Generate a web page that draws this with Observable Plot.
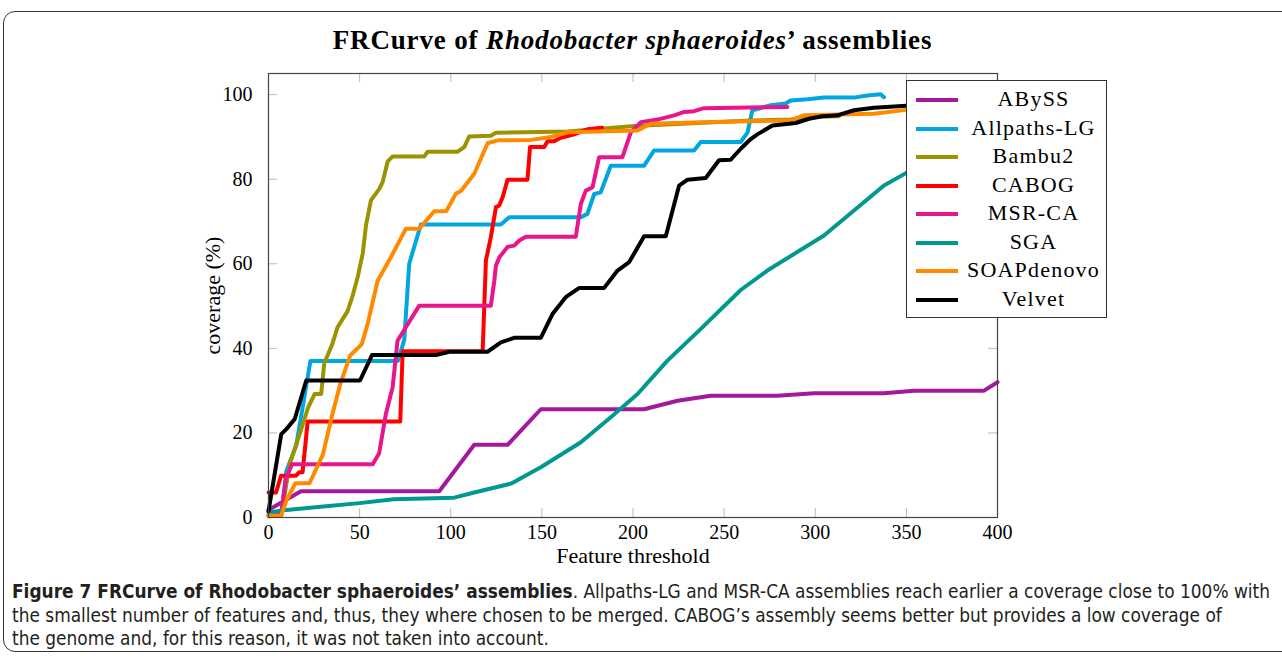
<!DOCTYPE html>
<html><head><meta charset="utf-8">
<script src="https://cdn.jsdelivr.net/npm/d3@7"></script>
<script src="https://cdn.jsdelivr.net/npm/@observablehq/plot@0.6"></script>
<style>
body{margin:0;background:#fff;}
#wrap{position:relative;width:1282px;height:656px;overflow:hidden;background:#fff;}
#border{position:absolute;left:3px;top:11px;width:1300px;height:639px;border:1.5px solid #333;border-radius:12px;}
#title{position:absolute;left:0;width:1265px;top:25px;text-align:center;font:bold 27px "Liberation Serif",serif;letter-spacing:0.85px;color:#000;}
#chart{position:absolute;left:0;top:0;}
#legend{position:absolute;left:906px;top:80px;width:199px;height:236px;background:#fff;border:1px solid #333;}
.row{position:absolute;left:0;width:199px;height:28px;}
.row svg{position:absolute;left:8px;top:12px;}
.row span{position:absolute;left:54px;right:0;top:0px;text-align:center;font:22px "Liberation Serif",serif;letter-spacing:1.2px;color:#000;line-height:28px;}
#caption{position:absolute;left:12px;top:580px;font:18.9px "Liberation Sans Narrow","DejaVu Sans Condensed",sans-serif;line-height:23.5px;white-space:nowrap;color:#231f20;}
#caption b{color:#231f20;}
</style>
</head><body>
<div id="wrap">
  <div id="border"></div>
  <div id="title">FRCurve of <i>Rhodobacter sphaeroides</i>’ assemblies</div>
  <div id="chart"></div>
  <div id="legend"></div>
  <div id="caption"><b>Figure 7 FRCurve of Rhodobacter sphaeroides’ assemblies</b>. Allpaths-LG and MSR-CA assemblies reach earlier a coverage close to 100% with<br>the smallest number of features and, thus, they where chosen to be merged. CABOG’s assembly seems better but provides a low coverage of<br>the genome and, for this reason, it was not taken into account.</div>
</div>
<script>
const seriesNames = ["ABySS","Allpaths-LG","Bambu2","CABOG","MSR-CA","SGA","SOAPdenovo","Velvet"];
const seriesColors = ["#a3199c","#00a6e2","#9b9300","#ff0000","#e8168c","#009891","#ff8a00","#000000"];
const xTicks = [0,50,100,150,200,250,300,350,400];
const yTicks = [0,20,40,60,80,100];

const abyss = [[0,1.8],[17.8,6.2],[93.7,6.2],[112.9,17.2],[131.2,17.2],[149.4,25.6],[206.1,25.6],[224.4,27.6],[242.7,28.8],[279.2,28.8],[299.3,29.4],[337.7,29.4],[354.2,30],[392.6,30],[400,32]];
const allpaths = [[0,0.5],[7,0.8],[9.8,11],[15.2,17],[23,37],[71,37],[74.5,42],[77.2,60],[83.6,69.3],[127.5,69.3],[132.1,71],[171.4,71],[175,71.8],[178.7,76.5],[182.3,76.9],[187.8,83.2],[206.1,83.2],[211.6,86.8],[233.5,86.8],[237.2,88.8],[259.1,88.8],[262.8,91],[265.5,96.3],[268.2,96.6],[275.6,97.5],[283.8,97.9],[286.5,98.6],[295.7,98.9],[304.8,99.3],[321.3,99.3],[328.6,99.8],[335.9,100.1],[337.7,99.4]];
const bambu2 = [[0,0.3],[7,0.5],[11.6,12.6],[17.1,19.7],[21.7,26],[25.3,29.2],[28.9,29.2],[30.6,36.5],[35,41],[37.9,45],[43.4,48.8],[46.2,52.5],[48.9,56.8],[51.7,62.4],[53.5,69.1],[56.2,75],[60.8,77.7],[62.6,79.3],[65.4,84.2],[68.1,85.4],[85.5,85.4],[87.3,86.5],[103.8,86.5],[107.4,87.6],[110.1,90.1],[122,90.3],[124.8,91],[164.1,91.3],[200.6,92.6],[264.6,93.9],[286.5,94.1],[295.7,94.7],[313,94.9]];
const cabog = [[0,5.9],[4.1,5.9],[6.9,9.9],[15.1,9.9],[16.9,10.7],[18.7,10.7],[21.5,22.7],[72.3,22.7],[73.6,39.3],[117.5,39.3],[119.3,60.8],[122,66.3],[124.8,73.4],[126.6,73.8],[128.5,75.8],[131.2,79.9],[142.1,79.9],[143.5,87.6],[151.3,87.6],[153.1,89],[156.7,89],[160.4,89.8],[167.7,90.6],[175,91.8],[183,92.2]];
const msrca = [[0,0.5],[7,1],[9.5,9],[12.8,12.6],[57.2,12.6],[60.7,15.2],[64.4,24.5],[68.1,30.8],[70.8,41.8],[82.7,50.1],[122,50.1],[123.9,56],[124.8,59.6],[126.6,61.5],[129,62.8],[131.2,64],[134.8,64.3],[137.6,65.5],[141.2,66.4],[168.6,66.4],[171.4,74.2],[174.1,77.3],[177.8,78.1],[181.4,85.2],[194.2,85.2],[198.8,91.1],[204.3,93.5],[213.4,94.1],[222.6,95.1],[228.1,95.9],[233.5,96.1],[239,96.8],[284.7,97.1]];
const sga = [[0,1.2],[10,1.8],[30,2.6],[50,3.4],[68.5,4.3],[101.9,4.7],[112.9,5.9],[133,8],[149.4,11.9],[171.4,17.8],[187.8,23.7],[202.5,29.2],[218.9,37.1],[237.2,44.6],[259.1,53.8],[273.7,58.4],[304.8,66.7],[337.7,78.5],[350,81.5],[360,83]];
const soap = [[0,0.4],[6.9,0.4],[9.8,4],[14.7,8.1],[22.5,8.1],[29.8,14.8],[34.8,24],[39.4,31.6],[44.8,38.3],[51.2,41],[54.4,45.8],[59.9,56],[67.2,61.6],[75.4,68.3],[82.7,68.3],[90.9,72.4],[97.5,72.4],[102.8,76.6],[105.6,77.2],[112.9,81.3],[120.2,88.5],[125.7,89.2],[144,89.3],[154.9,90],[164.1,91.1],[202.5,91.5],[209.8,93.1],[237.2,93.5],[264.6,93.7],[286.5,93.9],[293.8,95.1],[332.2,95.5],[349.6,96.4],[370,97],[396,98]];
const velvet = [[0,1.5],[7,19.7],[9.8,20.9],[14.4,23.3],[20.7,32.4],[50.2,32.4],[56.8,38.4],[91.9,38.4],[99.2,39.2],[120.2,39.2],[127.5,41.4],[134.8,42.5],[149.4,42.5],[155.8,48.1],[163.1,52.1],[170.5,54.3],[184.2,54.3],[191.5,58.4],[197.9,60.4],[206.1,66.5],[218,66.5],[225.3,78.5],[229.9,79.9],[239.9,80.3],[247.2,84.5],[253.6,84.6],[259.1,87.2],[264.6,89.5],[268.2,90.6],[276.5,92.7],[289.3,93.3],[296.6,94.3],[303.9,94.9],[312.1,95.1],[321.3,96.3],[332.2,96.9],[350,97.4],[356,97.6]];

const seriesData = [abyss, allpaths, bambu2, cabog, msrca, sga, soap, velvet];
const rows = seriesData.flatMap((s, i) => s.map(([x, y]) => ({name: seriesNames[i], x, y})));

const chart = Plot.plot({
  width: 1282, height: 575,
  marginLeft: 268, marginRight: 285, marginTop: 73, marginBottom: 58,
  x: {domain: [0, 400]},
  y: {domain: [0, 105]},
  color: {domain: seriesNames, range: seriesColors},
  style: {fontFamily: "'Liberation Serif', serif", fontSize: "20px", color: "#000", background: "transparent"},
  marks: [
    Plot.tickX(xTicks, {x: d => d, insetTop: 435, stroke: "#bbb"}),
    Plot.tickX(xTicks, {x: d => d, insetBottom: 435, stroke: "#bbb"}),
    Plot.tickY(yTicks, {y: d => d, insetRight: 720, stroke: "#bbb"}),
    Plot.tickY(yTicks, {y: d => d, insetLeft: 720, stroke: "#bbb"}),
    Plot.line(rows, {x: "x", y: "y", z: "name", stroke: "name", strokeWidth: 4, strokeLinejoin: "round"}),
    Plot.frame({stroke: "#444", strokeWidth: 1.2}),
    Plot.axisX(xTicks, {tickSize: 0, tickPadding: 7, label: null}),
    Plot.axisY(yTicks, {tickSize: 0, tickPadding: 16, label: null}),
    Plot.text(["Feature threshold"], {text: d => d, frameAnchor: "bottom", dy: 38, lineAnchor: "middle", textAnchor: "middle", fontSize: 22, letterSpacing: 1}),
    Plot.text(["coverage (%)"], {text: d => d, frameAnchor: "left", dx: -56, rotate: -90, textAnchor: "middle", lineAnchor: "middle", fontSize: 22, letterSpacing: 1})
  ]
});
document.getElementById("chart").appendChild(chart);

const legend = document.getElementById("legend");
seriesNames.forEach((n, i) => {
  const row = document.createElement("div");
  row.className = "row";
  row.style.top = (4 + i * 28.5) + "px";
  row.innerHTML = `<svg width="44" height="6"><line x1="1" y1="3" x2="43" y2="3" stroke="${seriesColors[i]}" stroke-width="4"/></svg><span>${n}</span>`;
  legend.appendChild(row);
});
</script>
</body></html>
